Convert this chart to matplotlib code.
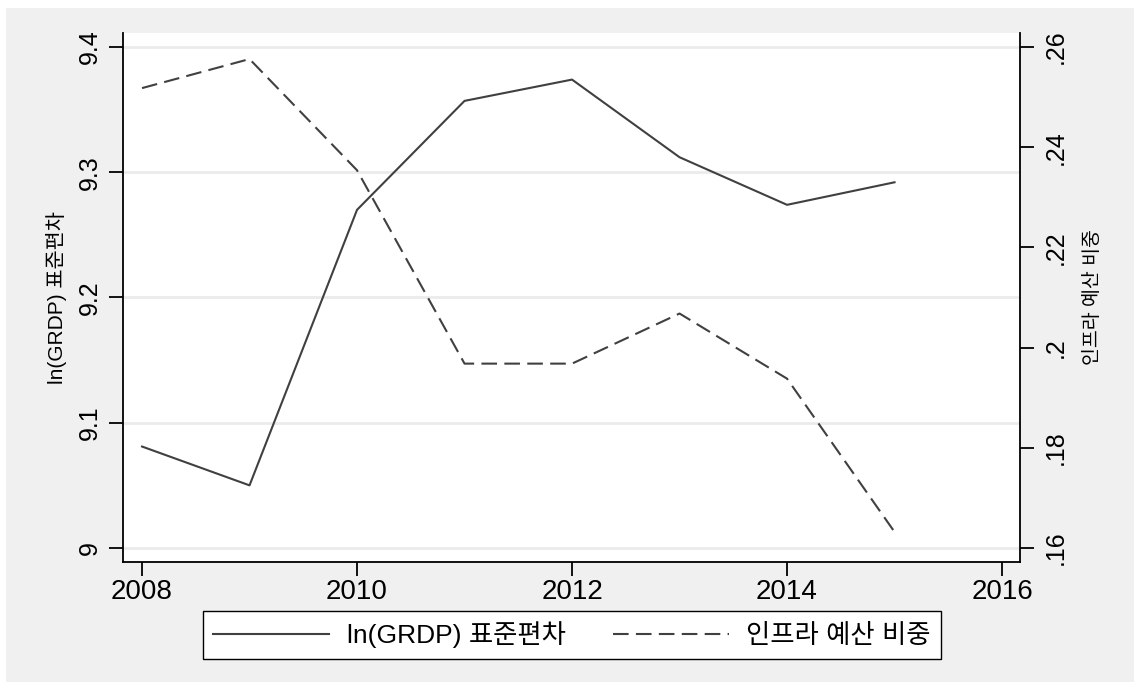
import matplotlib
matplotlib.use('Agg')
import matplotlib.pyplot as plt
from matplotlib.patches import Rectangle

plt.rcParams['font.family'] = ['Liberation Sans', 'Noto Sans CJK KR', 'DejaVu Sans']

years = [2008, 2009, 2010, 2011, 2012, 2013, 2014, 2015]
grdp_sd = [9.081, 9.050, 9.270, 9.357, 9.374, 9.312, 9.274, 9.292]
infra_share = [0.2518, 0.2576, 0.2354, 0.1968, 0.1968, 0.2068, 0.1938, 0.1632]

left_ticks = [9.0, 9.1, 9.2, 9.3, 9.4]
left_labels = ['9', '9.1', '9.2', '9.3', '9.4']
right_ticks = [0.16, 0.18, 0.20, 0.22, 0.24, 0.26]
right_labels = ['.16', '.18', '.2', '.22', '.24', '.26']
x_ticks = [2008, 2010, 2012, 2014, 2016]

W, H = 1134, 682
fig = plt.figure(figsize=(W / 100, H / 100), dpi=100, facecolor='#f0f0f0')
# white strips on the left and top edge
fig.patches.append(Rectangle((0, 0), 6 / W, 1, transform=fig.transFigure,
                             facecolor='white', edgecolor='none'))
fig.patches.append(Rectangle((0, 1 - 8 / H), 1, 8 / H, transform=fig.transFigure,
                             facecolor='white', edgecolor='none'))

ax = fig.add_axes([123 / W, (H - 562) / H, (1020 - 123) / W, (562 - 33) / H])
ax.set_facecolor('white')
ax2 = ax.twinx()

line_col = '#404040'
l1, = ax.plot(years, grdp_sd, color=line_col, lw=1.5, label='ln(GRDP) 표준편차')
l2, = ax2.plot(years, infra_share, color=line_col, lw=1.5, dashes=(7.5, 3.5),
               label='인프라 예산 비중')

ax.set_xlim(2007.823, 2016.167)
ax.set_ylim(8.9888, 9.4112)
ax2.set_ylim(0.1572, 0.2628)

ax.set_xticks(x_ticks)
ax.set_xticklabels([str(x) for x in x_ticks], fontsize=20)
ax.set_yticks(left_ticks)
ax.set_yticklabels(left_labels, fontsize=18, rotation=90, va='center')
ax2.set_yticks(right_ticks)
ax2.set_yticklabels(right_labels, fontsize=18, rotation=90, va='center')

ax.grid(axis='y', color='#ebebeb', lw=2)
ax.set_axisbelow(True)

for a in (ax, ax2):
    a.spines['top'].set_visible(False)
    for s in a.spines.values():
        s.set_linewidth(1.3)
        s.set_color('black')
    a.tick_params(length=10, width=1.3, colors='black', pad=5)
ax.tick_params(axis='x', pad=2)
ax2.tick_params(axis='y', pad=7)
ax2.spines['left'].set_visible(False)
ax2.spines['bottom'].set_visible(False)
ax.spines['right'].set_visible(False)

ax.set_ylabel('ln(GRDP) 표준편차', fontsize=15, labelpad=8)
ax2.set_ylabel('인프라 예산 비중', fontsize=14, labelpad=12)

leg = fig.legend(handles=[l1, l2], loc='center', bbox_to_anchor=(572 / W, 1 - 635 / H),
                 ncol=2, fontsize=19, frameon=True, fancybox=False, edgecolor='black',
                 handlelength=4.4, handletextpad=0.65, columnspacing=1.8,
                 borderpad=0.4, borderaxespad=0)
leg.get_frame().set_linewidth(1.0)
leg.get_frame().set_facecolor('white')
leg.get_frame().set_alpha(1)

fig.savefig('out.png', dpi=100, facecolor=fig.get_facecolor())
